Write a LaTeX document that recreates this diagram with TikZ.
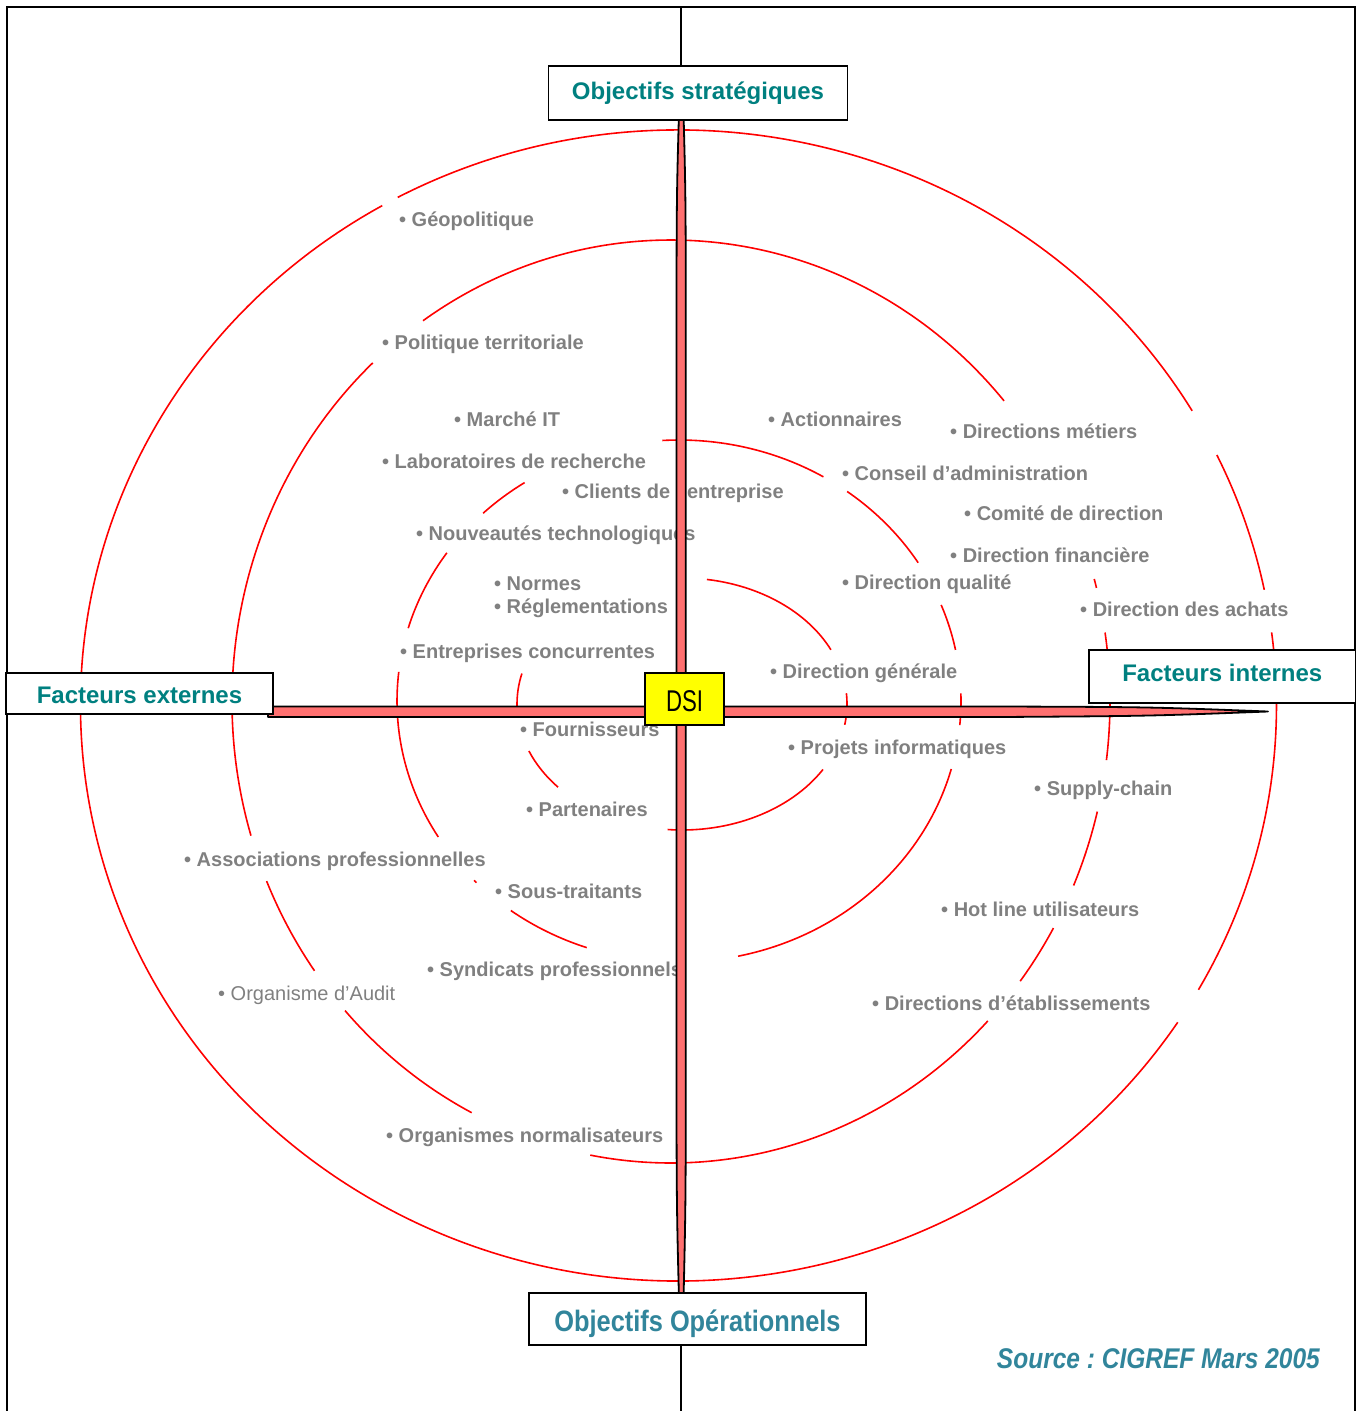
\documentclass[tikz,border=0pt]{standalone}
\usepackage{fontspec}
\setmainfont{Liberation Sans}
\newfontfamily\condfont[FakeStretch=0.86]{Liberation Sans}
\newfontfamily\dsifont[FakeStretch=0.74]{Liberation Sans}
\usetikzlibrary{calc}
\frenchspacing

\definecolor{titleteal}{RGB}{0,128,128}
\definecolor{steelteal}{RGB}{49,133,155}
\definecolor{labelgray}{RGB}{128,128,128}
\definecolor{ringred}{RGB}{255,0,0}
\definecolor{barfill}{RGB}{255,112,112}
\definecolor{dsiyellow}{RGB}{255,255,0}

% visible arcs of one ring: centre x, centre y, x radius, y radius, list of start/end angles
\newcommand\ringarcs[5]{%
  \foreach \sa/\ea in {#5}{%
    \draw[ring] (#1,#2) ++(\sa:#3 and #4) arc[start angle=\sa, end angle=\ea, x radius=#3, y radius=#4];
  }}

\begin{document}
\begin{tikzpicture}[x=1pt, y=-1pt,
  ring/.style={draw=ringred, line width=1.6},
  lbl/.style={anchor=base west, inner sep=0, text=labelgray, font=\fontsize{20}{24}\selectfont\bfseries},
  lblreg/.style={anchor=base west, inner sep=0, text=labelgray, font=\fontsize{20}{24}\selectfont},
  tbox/.style={draw=black, line width=1.8, fill=white, inner sep=0},
  axistitle/.style={tbox, text=titleteal, font=\fontsize{24}{28}\selectfont\bfseries},
  spindle/.style={fill=barfill, draw=black, line width=1.8, line join=round}]

\useasboundingbox (0,0) rectangle (1363,1411);

% outer frame and main vertical axis
\draw[line width=2] (7,1420) -- (7,7) -- (1355,7) -- (1355,1420);
\draw[line width=2.2] (681,7) -- (681,1411);

% concentric rings, interrupted behind the labels
\ringarcs{678.5}{705.5}{598}{575.5}{-118.0/-30.8, -25.8/-11.6, -7.3/29.6, 33.4/240.3}
\ringarcs{671}{701.5}{439}{461.5}{-124.4/-40.65, -15.4/-14.25, -8.6/7.3, 13.8/23.5, 29.4/37.3, 43.8/100.6, 117.0/137.95, 144.3/157.1, 163.1/227.2}
\ringarcs{679}{701}{282}{261}{-93.4/-59.2, -53.4/-32.0, -21.6/-11.3, -1.7/5.3, 15.1/77.9, 109.1/126.6, 135.9/136.6, 148.6/186.4, 196.2/214.6, 226.0/236.8}
\ringarcs{682}{704}{165}{126}{-81.3/-25.5, -4.9/9.5, 31.3/95, 138.7/158.1, 178.8/194.0}

% external factors
\node[lbl] (geo) at (399,226.2) {• Géopolitique};
\node[lbl] (polter) at (382,349.2) {• Politique territoriale};
\node[lbl] (marche) at (454,426.2) {• Marché IT};
\node[lbl] (labo) at (382,468.5) {• Laboratoires de recherche};
\node[lbl] (clients) at (562,498.5) {• Clients de l’entreprise};
\node[lbl] (nouv) at (416,540.2) {• Nouveautés technologiques};
\node[lbl] (normes) at (494,590.5) {• Normes};
\node[lbl] (regl) at (494,613.8) {• Réglementations};
\node[lbl] (concur) at (400,658.5) {• Entreprises concurrentes};
\node[lbl] (fourn) at (520,736.3) {• Fournisseurs};
\node[lbl] (parten) at (526,816.3) {• Partenaires};
\node[lbl] (assoc) at (184,866.3) {• Associations professionnelles};
\node[lbl] (soustr) at (495,898.5) {• Sous-traitants};
\node[lbl] (syndic) at (427,976.3) {• Syndicats professionnels};
\node[lblreg] (audit) at (218,1000.3) {• Organisme d’Audit};
\node[lbl] (normal) at (386,1142.2) {• Organismes normalisateurs};

% internal factors
\node[lbl] (action) at (768,426.2) {• Actionnaires};
\node[lbl] (dirmet) at (950,438.7) {• Directions métiers};
\node[lbl] (conseil) at (842,480.3) {• Conseil d’administration};
\node[lbl] (comite) at (964,520.3) {• Comité de direction};
\node[lbl] (dirfin) at (950,562.3) {• Direction financière};
\node[lbl] (dirqual) at (842,589.7) {• Direction qualité};
\node[lbl] (dirach) at (1080,616.2) {• Direction des achats};
\node[lbl] (dirgen) at (770,678.2) {• Direction générale};
\node[lbl] (projets) at (788,754) {• Projets informatiques};
\node[lbl] (supply) at (1034,795.3) {• Supply-chain};
\node[lbl] (hotline) at (941,916.5) {• Hot line utilisateurs};
\node[lbl] (dirEtab) at (872,1010.3) {• Directions d’établissements};

% the two tapered axes
\draw[spindle] (679,112) .. controls (676.5,200) .. (676.5,400) -- (676.5,1000)
  .. controls (676.5,1200) .. (679,1300) -- (683.5,1300)
  .. controls (685.8,1200) .. (685.8,1000) -- (685.8,400)
  .. controls (685.8,200) .. (683.5,112) -- cycle;
\draw[spindle] (268,706.5) -- (1000,706.5) .. controls (1150,707) .. (1268,711.5)
  .. controls (1150,716) .. (1000,717) -- (268,717) -- cycle;

% axis titles
\node[axistitle, minimum width=299, minimum height=54, text height=17.2, text depth=5] (strat) at (698,93) {Objectifs stratégiques};
\node[axistitle, minimum width=267, minimum height=41, text height=20.8, text depth=0] (ext) at (139.5,693.5) {Facteurs externes};
\node[axistitle, minimum width=266.5, minimum height=52.7, text height=17.2, text depth=6.8] (int) at (1222.3,676.4) {Facteurs internes};
\node[tbox, text=steelteal, font=\condfont\fontsize{29.5}{34}\selectfont\bfseries, minimum width=337, minimum height=52, text height=24.7, text depth=0] (oper) at (697.5,1319) {Objectifs Opérationnels};

% centre
\node[tbox, fill=dsiyellow, font=\dsifont\fontsize{30}{34}\selectfont, minimum width=79, minimum height=52, text height=25.1, text depth=0] (dsi) at (684.5,699) {DSI};

% source
\node[anchor=base east, inner sep=0, text=steelteal, font=\condfont\fontsize{28.5}{32}\selectfont\bfseries\itshape] (src) at (1320,1368) {Source : CIGREF Mars 2005};
\end{tikzpicture}
\end{document}
